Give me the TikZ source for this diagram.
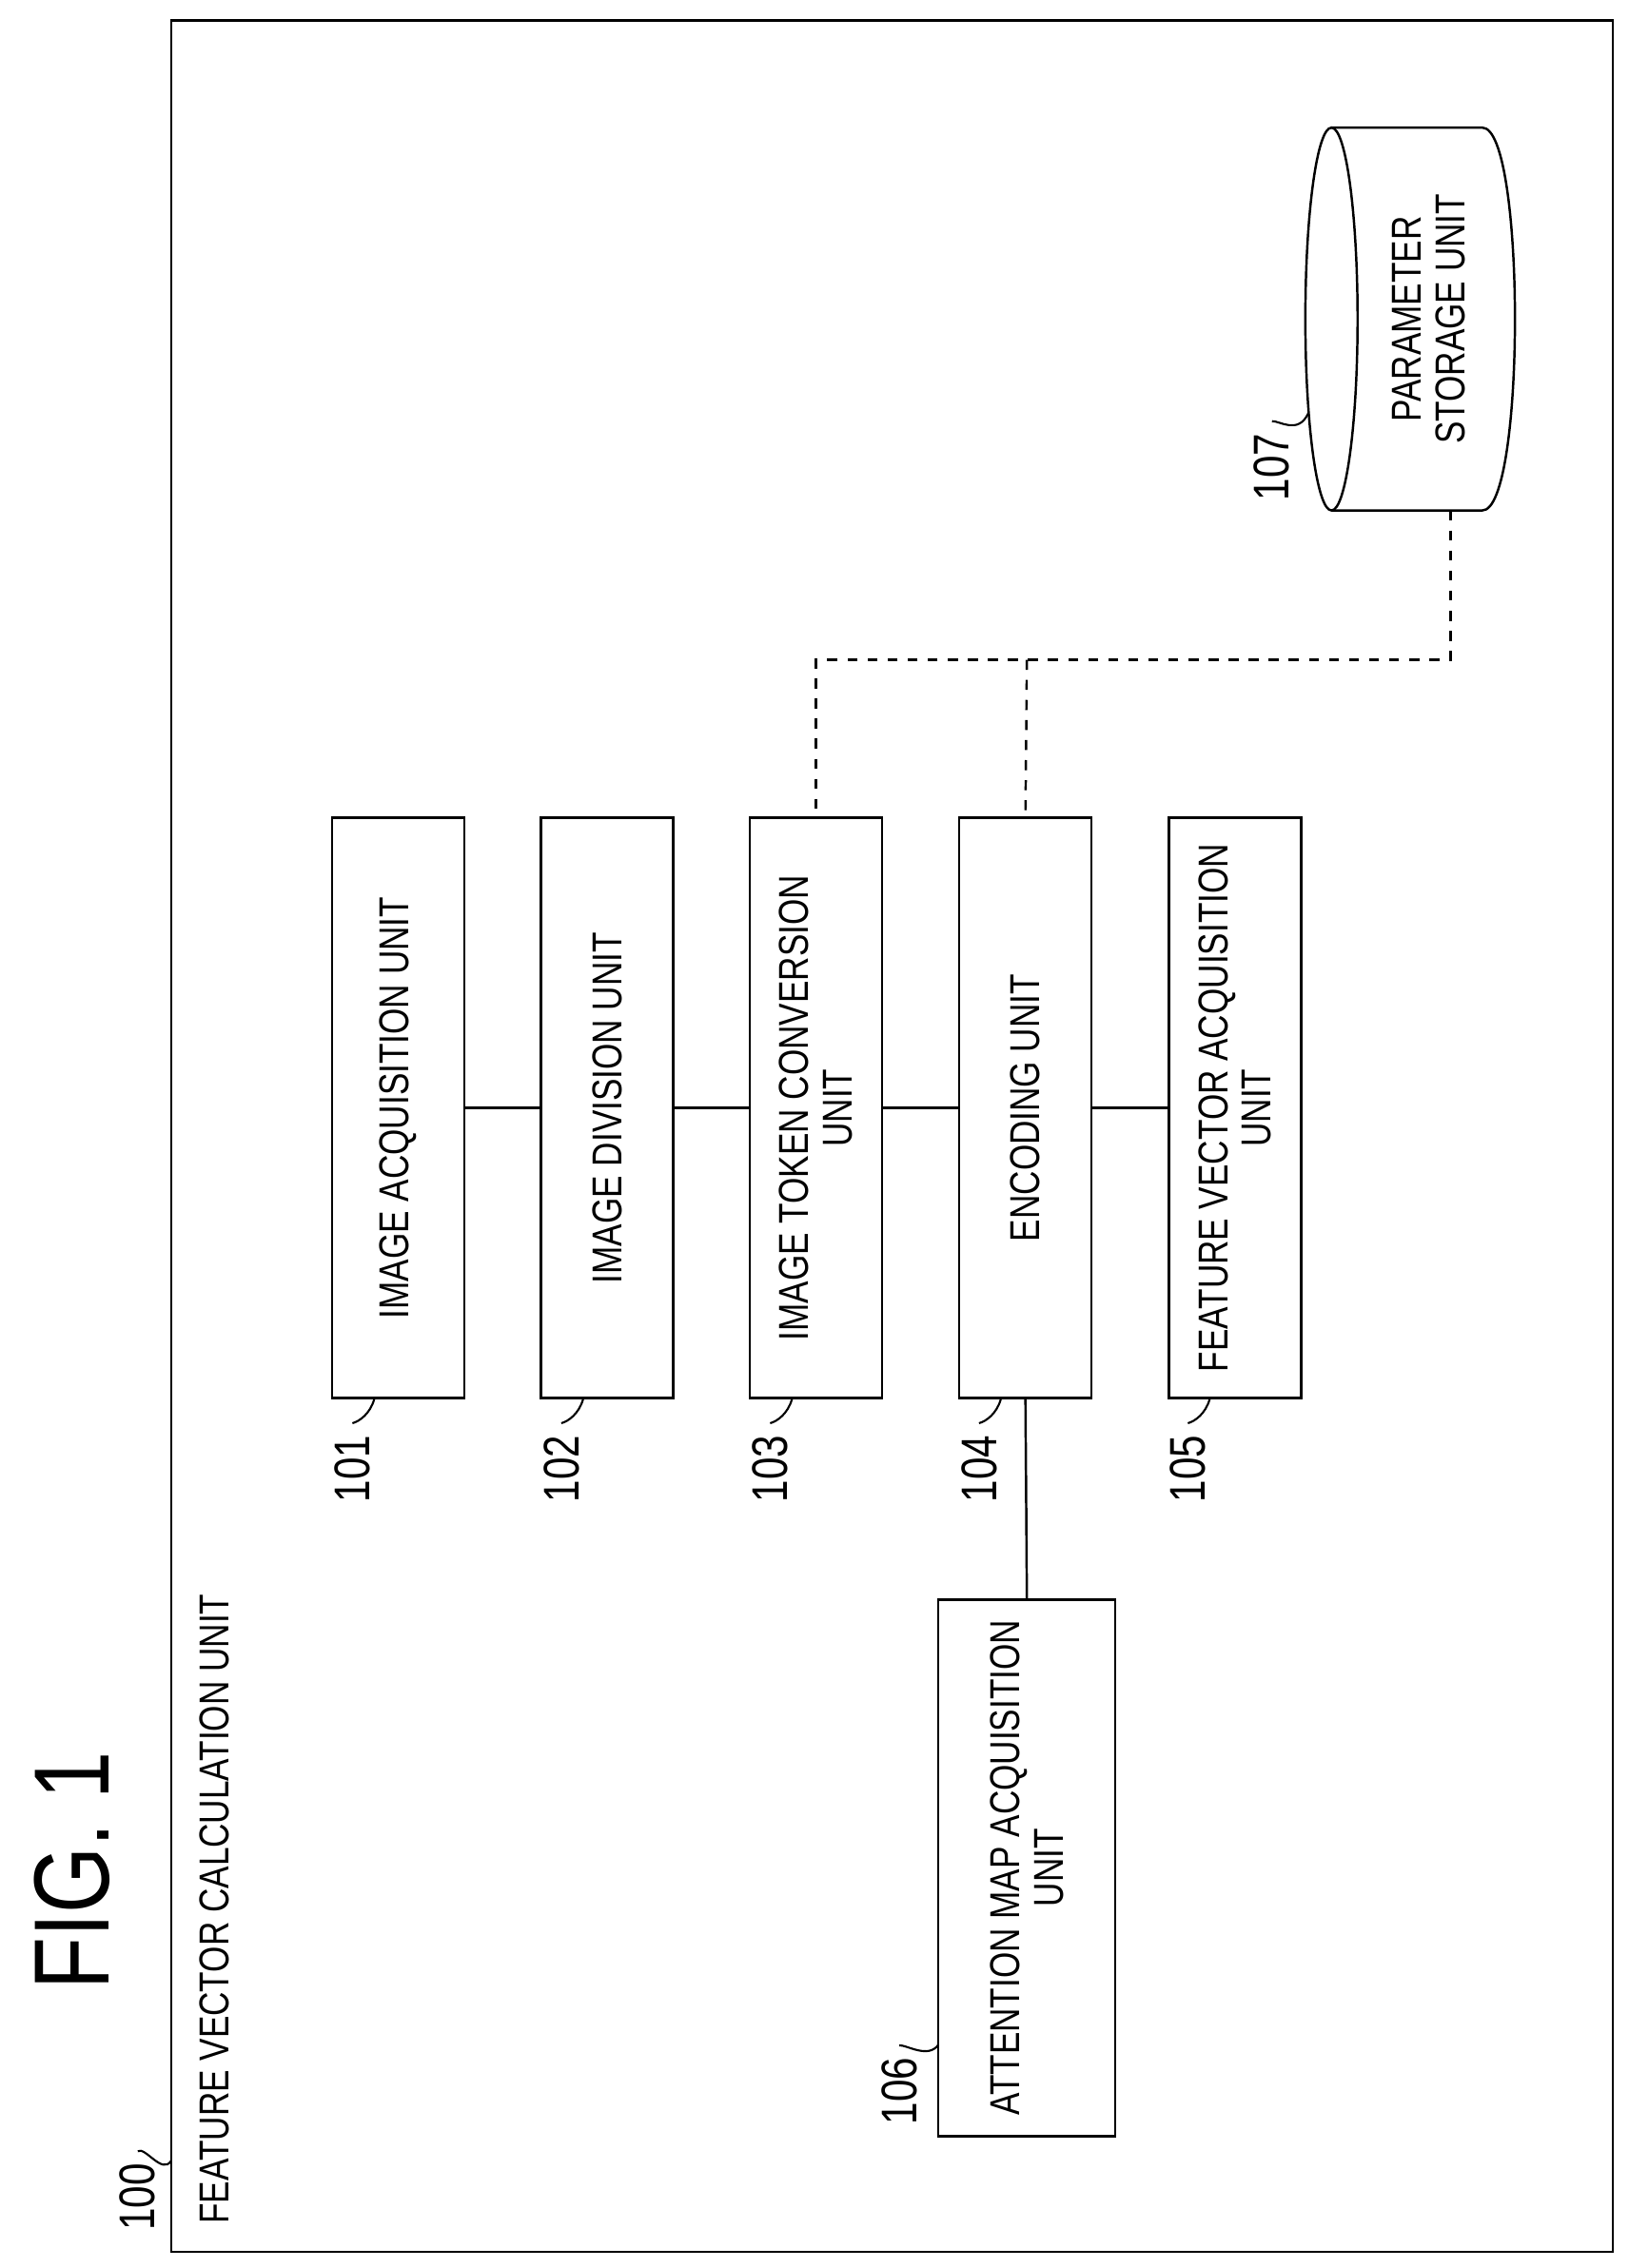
\documentclass[tikz,border=0pt]{standalone}
\usepackage{fontspec}
\setmainfont{Liberation Sans}[FakeStretch=0.8]
\usetikzlibrary{positioning}
\tikzset{
  unit/.style={draw,line width=0.7pt,rectangle,minimum width=6.1cm,minimum height=1.39cm,
    rotate=90,align=center,font=\fontsize{12.5}{13}\selectfont,inner sep=1pt},
  num/.style={rotate=90,font=\fontsize{15}{16}\selectfont},
  lead/.style={line width=0.6pt}
}
\begin{document}
\begin{tikzpicture}[x=0.015245cm,y=-0.015245cm,line width=0.7pt]
  \useasboundingbox (0,0) rectangle (1123,1564);
  \draw (118,14) rectangle (1112,1553);
  \node[rotate=90,font=\fontsize{32}{34}\selectfont] (fig) at (50,1290) {FIG. 1};
  \node[rotate=90,anchor=west,font=\fontsize{12.5}{13}\selectfont] (title) at (148,1542) {FEATURE VECTOR CALCULATION UNIT};
  % units
  \node[unit] (acq) at (274.5,764) {IMAGE ACQUISITION UNIT};
  \node[unit] (div) at (418.5,764) {IMAGE DIVISION UNIT};
  \node[unit] (tok) at (562.5,764) {IMAGE TOKEN CONVERSION\\UNIT};
  \node[unit] (enc) at (707,764) {ENCODING UNIT};
  \node[unit] (fva) at (851.5,764) {FEATURE VECTOR ACQUISITION\\UNIT};
  \node[unit,minimum width=5.64cm,minimum height=1.86cm] (att) at (708,1288) {ATTENTION MAP ACQUISITION\\UNIT};
  \draw (acq) -- (div);
  \draw (div) -- (tok);
  \draw (tok) -- (enc);
  \draw (enc) -- (fva);
  \draw (enc.west) -- (att.east);
  % parameter storage
  \draw (918,88) -- (1022,88) .. controls (1052,88) and (1052,352) .. (1022,352) -- (918,352);
  \draw (918,220) ellipse[x radius=18,y radius=132];
  \node[rotate=90,align=center,font=\fontsize{12.5}{13}\selectfont] (store) at (985,220) {PARAMETER\\STORAGE UNIT};
  \coordinate (store-s) at (1000,352);
  \coordinate (bus) at (708,455);
  \draw[dashed] (store-s) |- (bus) -| (tok.east);
  \draw[dashed] (bus) -- (enc.east);
  % reference numerals
  \node[num] (n100) at (95,1515) {100};
  \node[num] (n101) at (243,1013) {101};
  \node[num] (n102) at (387,1013) {102};
  \node[num] (n103) at (531,1013) {103};
  \node[num] (n104) at (675,1013) {104};
  \node[num] (n105) at (819,1013) {105};
  \node[num] (n106) at (620,1442) {106};
  \node[num] (n107) at (877,322) {107};
  \draw[lead] (n100.east) .. controls (100,1480) and (112,1500) .. (118,1490);
  \draw[lead] (n101.east) .. controls (248,980) and (255,975) .. (258,965);
  \draw[lead] (n102.east) .. controls (392,980) and (399,975) .. (402,965);
  \draw[lead] (n103.east) .. controls (536,980) and (543,975) .. (546,965);
  \draw[lead] (n104.east) .. controls (680,980) and (687,975) .. (690,965);
  \draw[lead] (n105.east) .. controls (824,980) and (831,975) .. (834,965);
  \draw[lead] (n106.east) .. controls (625,1410) and (640,1420) .. (647,1410);
  \draw[lead] (n107.east) .. controls (882,290) and (895,300) .. (902,285);
\end{tikzpicture}
\end{document}
